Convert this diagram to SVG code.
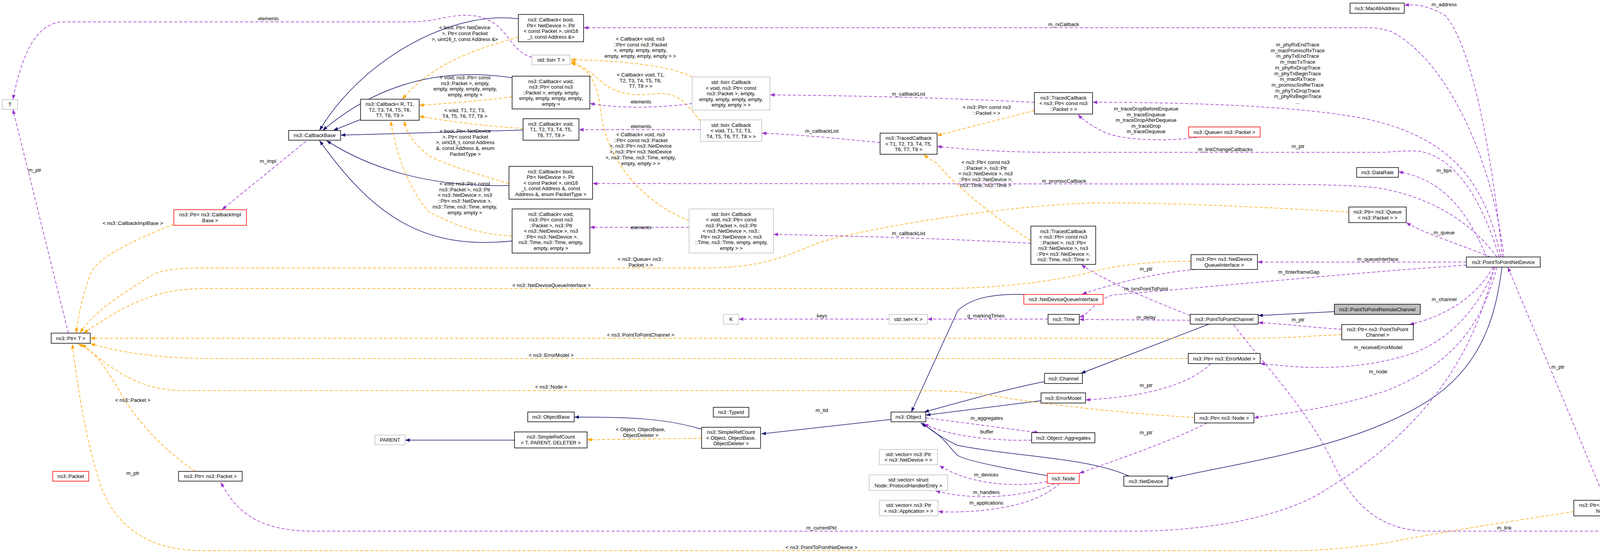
<svg xmlns="http://www.w3.org/2000/svg" width="4485" height="1416" viewBox="0 0 4485 1416">
<style>
text{font-family:"Liberation Sans",Arial,sans-serif;font-size:13px;fill:#000;text-anchor:middle}
.n{fill:#fff;stroke:#000;stroke-width:1.5}
.g{fill:#fff;stroke:#bfbfbf;stroke-width:1.5}
.r{fill:#fff;stroke:#ff0000;stroke-width:1.5}
.s{fill:#bfbfbf;stroke:#000;stroke-width:1.5}
.inh{fill:none;stroke:#191970;stroke-width:1.5;marker-end:url(#mb)}
.tpl{fill:none;stroke:#ffa500;stroke-width:1.5;stroke-dasharray:8,5;marker-end:url(#mo)}
.use{fill:none;stroke:#9a32cd;stroke-width:1.5;stroke-dasharray:8,5;marker-end:url(#mp)}
</style>
<defs>
<marker id="mb" markerUnits="userSpaceOnUse" markerWidth="13" markerHeight="10" refX="12" refY="4.5" orient="auto"><path d="M0,0 L12,4.5 L0,9 z" fill="#191970"/></marker>
<marker id="mo" markerUnits="userSpaceOnUse" markerWidth="13" markerHeight="10" refX="12" refY="4.5" orient="auto"><path d="M0,0 L12,4.5 L0,9 z" fill="#ffa500"/></marker>
<marker id="mp" markerUnits="userSpaceOnUse" markerWidth="13" markerHeight="10" refX="12" refY="4.5" orient="auto"><path d="M0,0 L12,4.5 L0,9 z" fill="#9a32cd"/></marker>
</defs>
<rect width="4485" height="1416" fill="#fff"/>
<g id="edges">
<path class="inh" d="M1327,48 C1150,25 920,160 818,334"/>
<path class="inh" d="M923,306 L853,334"/>
<path class="inh" d="M1311,199 C1120,170 960,220 826,334"/>
<path class="inh" d="M1339,333 L872,346"/>
<path class="inh" d="M1303,475 C1120,480 960,440 836,360"/>
<path class="inh" d="M1311,617 C1090,640 960,560 818,360"/>
<path class="inh" d="M2621,754 C2520,752 2480,770 2452,795 L2333,1055"/>
<path class="inh" d="M2674,977 C2560,1000 2440,1035 2366,1055"/>
<path class="inh" d="M2665,1026 L2370,1063"/>
<path class="inh" d="M2681,1218 C2580,1200 2470,1180 2450,1165 C2425,1140 2420,1120 2357,1083"/>
<path class="inh" d="M2890,1219 C2780,1170 2600,1170 2450,1140 C2410,1120 2380,1100 2362,1083"/>
<path class="inh" d="M2281,1074 L1949,1111"/>
<path class="inh" d="M1796,1099 C1700,1070 1600,1068 1470,1068"/>
<path class="inh" d="M1317,1127 L1037,1127"/>
<path class="inh" d="M3095,830 L2767,956"/>
<path class="inh" d="M3416,798 L3221,808"/>
<path class="inh" d="M3845,684 C3830,800 3800,920 3680,1010 C3500,1140 3200,1180 2990,1226"/>

<path class="tpl" d="M445,574 C330,620 250,660 232,700 C215,750 200,800 195,853"/>
<path class="tpl" d="M3453,543 C3200,528 2900,515 2761,521 C2500,535 2200,590 2100,620 C2000,660 1950,686 1800,686 L520,686 C440,686 400,695 380,710 C300,760 240,800 205,852"/>
<path class="tpl" d="M3049,669 C2950,668 2850,680 2780,700 C2650,730 2500,739 2400,739 L520,739 C400,739 320,780 214,853"/>
<path class="tpl" d="M3435,857 C3350,860 3300,866 3200,866 L231,866"/>
<path class="tpl" d="M3042,918 L540,918 C400,918 300,900 231,880"/>
<path class="tpl" d="M3058,1069 C2900,1060 2700,1040 2520,1010 C2450,1000 2400,1000 2300,1000 L470,1000 C350,1000 280,940 210,881"/>
<path class="tpl" d="M500,1207 C400,1140 330,1050 300,990 C260,930 245,900 200,881"/>
<path class="tpl" d="M4029,1310 C3900,1330 3700,1360 3550,1390 C3400,1410 3350,1410 3300,1410 L520,1410 C380,1410 300,1350 260,1250 C220,1130 200,1000 185,881"/>
<path class="tpl" d="M1327,95 C1200,130 1100,170 1030,254"/>
<path class="tpl" d="M1311,248 C1200,262 1120,266 1073,270"/>
<path class="tpl" d="M1339,329 C1200,320 1120,305 1073,298"/>
<path class="tpl" d="M1303,470 C1200,440 1140,420 1100,400 C1060,370 1040,340 1035,310"/>
<path class="tpl" d="M1311,604 C1200,600 1140,560 1100,545 C1050,490 1015,400 1000,310"/>
<path class="tpl" d="M1772,197 C1720,170 1600,155 1461,153"/>
<path class="tpl" d="M1793,310 C1760,270 1740,235 1680,240 C1600,250 1560,230 1530,200 C1500,175 1480,165 1461,157"/>
<path class="tpl" d="M1764,565 C1650,520 1560,420 1540,300 C1530,220 1520,180 1461,161"/>
<path class="tpl" d="M2648,283 L2399,347"/>
<path class="tpl" d="M2639,616 C2550,560 2450,480 2400,420 L2364,396"/>
<path class="tpl" d="M1796,1122 L1503,1126"/>

<path class="use" d="M1362,147 C1300,130 1300,50 1210,40 C1150,35 1120,56 1050,56 L165,56 C100,56 60,120 33,255"/>
<path class="use" d="M175,853 L33,280"/>
<path class="use" d="M783,362 L568,537"/>
<path class="use" d="M1772,265 C1700,275 1600,280 1510,265"/>
<path class="use" d="M1793,332 L1482,332"/>
<path class="use" d="M1764,582 L1510,582"/>
<path class="use" d="M2648,262 C2400,250 2200,245 1971,243"/>
<path class="use" d="M2253,365 C2150,355 2050,345 1950,341"/>
<path class="use" d="M2639,623 C2400,610 2200,605 1980,600"/>
<path class="use" d="M3850,658 C3820,400 3700,150 3560,80 C3530,72 3520,71 3500,71 L1494,71"/>
<path class="use" d="M3842,658 C3800,450 3700,350 3500,305 C3350,275 3100,262 2797,262"/>
<path class="use" d="M3063,352 C2990,362 2880,360 2830,340 C2790,320 2770,305 2760,293"/>
<path class="use" d="M3838,658 C3790,500 3720,400 3632,387 C3580,385 3560,390 3540,390 L2700,390 C2550,390 2450,380 2399,375"/>
<path class="use" d="M3832,658 C3760,560 3650,500 3520,480 C3400,470 3300,473 3000,471 L1517,470"/>
<path class="use" d="M3806,658 C3760,550 3700,460 3580,440"/>
<path class="use" d="M3846,658 C3820,400 3770,120 3700,40 C3650,10 3620,12 3595,13"/>
<path class="use" d="M3815,658 C3750,630 3650,600 3600,570"/>
<path class="use" d="M3754,671 L3219,671"/>
<path class="use" d="M3754,679 C3500,695 3100,735 2850,755 C2800,770 2790,805 2763,812"/>
<path class="use" d="M3060,690 C3000,695 2900,710 2770,753"/>
<path class="use" d="M3047,808 C2950,770 2830,720 2768,678"/>
<path class="use" d="M3047,820 L2763,818"/>
<path class="use" d="M2683,817 L2374,817"/>
<path class="use" d="M2276,817 L1891,817"/>
<path class="use" d="M3822,684 C3780,760 3700,810 3608,831"/>
<path class="use" d="M3435,843 C3350,838 3300,830 3221,826"/>
<path class="use" d="M3828,684 C3780,800 3700,880 3600,910 C3500,940 3400,945 3300,938 L3226,931"/>
<path class="use" d="M3100,931 C3050,980 2950,1015 2779,1024"/>
<path class="use" d="M3832,684 C3790,850 3700,940 3550,1000 C3400,1050 3300,1055 3210,1070"/>
<path class="use" d="M3090,1083 C3000,1130 2850,1180 2763,1212"/>
<path class="use" d="M2370,1070 C2450,1080 2560,1095 2660,1108"/>
<path class="use" d="M2641,1127 C2540,1130 2420,1115 2365,1085"/>
<path class="use" d="M2681,1233 C2600,1250 2480,1240 2405,1192"/>
<path class="use" d="M2700,1238 C2640,1270 2500,1285 2395,1257"/>
<path class="use" d="M2712,1238 C2650,1300 2500,1315 2401,1310"/>
<path class="use" d="M3824,684 C3780,900 3650,1100 3400,1250 C3300,1320 3100,1360 2900,1360 L800,1360 C650,1360 600,1300 565,1235"/>
<path class="use" d="M3158,832 C3250,950 3350,1050 3420,1200 C3480,1320 3560,1360 3660,1360 L4100,1360 C4200,1358 4250,1352 4304,1348"/>
<path class="use" d="M4304,1324 C4270,1318 4240,1314 4213,1311"/>
<path class="use" d="M4110,1281 L3860,684"/>
</g>
<g id="labels">
<text x="687" y="52">elements</text>
<text x="89" y="440">m_ptr</text>
<text x="686" y="417">m_impl</text>
<text x="340" y="576">&lt; ns3::CallbackImplBase &gt;</text>
<text x="1190" y="75"><tspan x="1190">&lt; bool, Ptr&lt; NetDevice</tspan><tspan x="1190" dy="15">&gt;, Ptr&lt; const Packet</tspan><tspan x="1190" dy="15">&gt;, uint16_t, const Address &amp;&gt;</tspan></text>
<text x="1639" y="104"><tspan x="1639">&lt; Callback&lt; void, ns3</tspan><tspan x="1639" dy="14.5">::Ptr&lt; const ns3::Packet</tspan><tspan x="1639" dy="14.5">&gt;, empty, empty, empty,</tspan><tspan x="1639" dy="14.5">empty, empty, empty, empty &gt; &gt;</tspan></text>
<text x="1191" y="203"><tspan x="1191">&lt; void, ns3::Ptr&lt; const</tspan><tspan x="1191" dy="14.5">ns3::Packet &gt;, empty,</tspan><tspan x="1191" dy="14.5">empty, empty, empty, empty,</tspan><tspan x="1191" dy="14.5">empty, empty &gt;</tspan></text>
<text x="1640" y="196"><tspan x="1640">&lt; Callback&lt; void, T1,</tspan><tspan x="1640" dy="14.5">T2, T3, T4, T5, T6,</tspan><tspan x="1640" dy="14.5">T7, T8 &gt; &gt;</tspan></text>
<text x="1641" y="265">elements</text>
<text x="1641" y="328">elements</text>
<text x="1641" y="587">elements</text>
<text x="1190" y="287"><tspan x="1190">&lt; void, T1, T2, T3,</tspan><tspan x="1190" dy="14.5">T4, T5, T6, T7, T8 &gt;</tspan></text>
<text x="2104" y="340">m_callbackList</text>
<text x="1191" y="340"><tspan x="1191">&lt; bool, Ptr&lt; NetDevice</tspan><tspan x="1191" dy="14.7">&gt;, Ptr&lt; const Packet</tspan><tspan x="1191" dy="14.7">&gt;, uint16_t, const Address</tspan><tspan x="1191" dy="14.7">&amp;, const Address &amp;, enum</tspan><tspan x="1191" dy="14.7">PacketType &gt;</tspan></text>
<text x="1640" y="349"><tspan x="1640">&lt; Callback&lt; void, ns3</tspan><tspan x="1640" dy="14.7">::Ptr&lt; const ns3::Packet</tspan><tspan x="1640" dy="14.7">&gt;, ns3::Ptr&lt; ns3::NetDevice</tspan><tspan x="1640" dy="14.7">&gt;, ns3::Ptr&lt; ns3::NetDevice</tspan><tspan x="1640" dy="14.7">&gt;, ns3::Time, ns3::Time, empty,</tspan><tspan x="1640" dy="14.7">empty, empty &gt; &gt;</tspan></text>
<text x="1190" y="475"><tspan x="1190">&lt; void, ns3::Ptr&lt; const</tspan><tspan x="1190" dy="14.7">ns3::Packet &gt;, ns3::Ptr</tspan><tspan x="1190" dy="14.7">&lt; ns3::NetDevice &gt;, ns3</tspan><tspan x="1190" dy="14.7">::Ptr&lt; ns3::NetDevice &gt;,</tspan><tspan x="1190" dy="14.7">ns3::Time, ns3::Time, empty,</tspan><tspan x="1190" dy="14.7">empty, empty &gt;</tspan></text>
<text x="1640" y="668"><tspan x="1640">&lt; ns3::Queue&lt; ns3::</tspan><tspan x="1640" dy="14.5">Packet &gt; &gt;</tspan></text>
<text x="2723" y="67">m_rxCallback</text>
<text x="2326" y="245">m_callbackList</text>
<text x="2326" y="602">m_callbackList</text>
<text x="2526" y="279"><tspan x="2526">&lt; ns3::Ptr&lt; const ns3</tspan><tspan x="2526" dy="14.5">::Packet &gt; &gt;</tspan></text>
<text x="2934" y="283"><tspan x="2934">m_traceDropBeforeEnqueue</tspan><tspan x="2934" dy="14.5">m_traceEnqueue</tspan><tspan x="2934" dy="14.5">m_traceDropAfterDequeue</tspan><tspan x="2934" dy="14.5">m_traceDrop</tspan><tspan x="2934" dy="14.5">m_traceDequeue</tspan></text>
<text x="3137" y="387">m_linkChangeCallbacks</text>
<text x="2523" y="420"><tspan x="2523">&lt; ns3::Ptr&lt; const ns3</tspan><tspan x="2523" dy="14.7">::Packet &gt;, ns3::Ptr</tspan><tspan x="2523" dy="14.7">&lt; ns3::NetDevice &gt;, ns3</tspan><tspan x="2523" dy="14.7">::Ptr&lt; ns3::NetDevice &gt;,</tspan><tspan x="2523" dy="14.7">ns3::Time, ns3::Time &gt;</tspan></text>
<text x="2724" y="468">m_promiscCallback</text>
<text x="2934" y="693">m_ptr</text>
<text x="3322" y="119"><tspan x="3322">m_phyRxEndTrace</tspan><tspan x="3322" dy="14.7">m_macPromiscRxTrace</tspan><tspan x="3322" dy="14.7">m_phyTxEndTrace</tspan><tspan x="3322" dy="14.7">m_macTxTrace</tspan><tspan x="3322" dy="14.7">m_phyRxDropTrace</tspan><tspan x="3322" dy="14.7">m_phyTxBeginTrace</tspan><tspan x="3322" dy="14.7">m_macRxTrace</tspan><tspan x="3322" dy="14.7">m_promiscSnifferTrace</tspan><tspan x="3322" dy="14.7">m_phyTxDropTrace</tspan><tspan x="3322" dy="14.7">m_phyRxBeginTrace</tspan><tspan x="3322" dy="14.7">...</tspan></text>
<text x="3697" y="16">m_address</text>
<text x="3697" y="441">m_bps</text>
<text x="3697" y="600">m_queue</text>
<text x="3527" y="668">m_queueInterface</text>
<text x="3323" y="379">m_ptr</text>
<text x="3325" y="701">m_tInterframeGap</text>
<text x="340" y="1029">&lt; ns3::Packet &gt;</text>
<text x="340" y="1216">m_ptr</text>
<text x="1412" y="735">&lt; ns3::NetDeviceQueueInterface &gt;</text>
<text x="2104" y="813">keys</text>
<text x="1640" y="862">&lt; ns3::PointToPointChannel &gt;</text>
<text x="1411" y="914">&lt; ns3::ErrorModel &gt;</text>
<text x="1411" y="995">&lt; ns3::Node &gt;</text>
<text x="2104" y="1055">m_tid</text>
<text x="1640" y="1104"><tspan x="1640">&lt; Object, ObjectBase,</tspan><tspan x="1640" dy="14.5">ObjectDeleter &gt;</tspan></text>
<text x="2103" y="1356">m_currentPkt</text>
<text x="2103" y="1406">&lt; ns3::PointToPointNetDevice &gt;</text>
<text x="2934" y="744">m_txrxPointToPoint</text>
<text x="2524" y="813">g_markingTimes</text>
<text x="2934" y="817">m_delay</text>
<text x="2934" y="991">m_ptr</text>
<text x="2526" y="1075">m_aggregates</text>
<text x="2526" y="1110">buffer</text>
<text x="2934" y="1112">m_ptr</text>
<text x="2525" y="1220">m_devices</text>
<text x="2525" y="1265">m_handlers</text>
<text x="2525" y="1292">m_applications</text>
<text x="3697" y="771">m_channel</text>
<text x="3323" y="823">m_ptr</text>
<text x="3528" y="894">m_receiveErrorModel</text>
<text x="3528" y="956">m_node</text>
<text x="3988" y="944">m_ptr</text>
<text x="4258" y="1297"><tspan x="4258">m_src</tspan><tspan x="4258" dy="14.5">m_dst</tspan></text>
<text x="3851" y="1356">m_link</text>
</g>
<g id="n_T"><rect class="g" x="6" y="255" width="39" height="25"/><text x="25.5" y="272">T</text></g>
<g id="n_CallbackBase"><rect class="n" x="739" y="334" width="133" height="25"/><text x="805.5" y="351">ns3::CallbackBase</text></g>
<g id="n_CallbackR"><rect class="n" x="923" y="254" width="150" height="54"/><text x="998" y="271"><tspan x="998">ns3::Callback&lt; R, T1,</tspan><tspan x="998" dy="14.5">T2, T3, T4, T5, T6,</tspan><tspan x="998" dy="14.5">T7, T8, T9 &gt;</tspan></text></g>
<g id="n_PtrCallbackImplBase"><rect class="r" x="445" y="537" width="186" height="40"/><text x="538" y="554"><tspan x="538">ns3::Ptr&lt; ns3::CallbackImpl</tspan><tspan x="538" dy="14.5">Base &gt;</tspan></text></g>
<g id="n_CbBoolAddr"><rect class="n" x="1327" y="37" width="167" height="70"/><text x="1410.5" y="55"><tspan x="1410.5">ns3::Callback&lt; bool,</tspan><tspan x="1410.5" dy="14.5">Ptr&lt; NetDevice &gt;, Ptr</tspan><tspan x="1410.5" dy="14.5">&lt; const Packet &gt;, uint16</tspan><tspan x="1410.5" dy="14.5">_t, const Address &amp;&gt;</tspan></text></g>
<g id="n_stdlistT"><rect class="g" x="1362" y="141" width="97" height="25"/><text x="1410.5" y="158">std::list&lt; T &gt;</text></g>
<g id="n_CbVoidEmpty"><rect class="n" x="1311" y="195" width="199" height="84"/><text x="1410.5" y="212.5"><tspan x="1410.5">ns3::Callback&lt; void,</tspan><tspan x="1410.5" dy="14.5">ns3::Ptr&lt; const ns3</tspan><tspan x="1410.5" dy="14.5">::Packet &gt;, empty, empty,</tspan><tspan x="1410.5" dy="14.5">empty, empty, empty, empty,</tspan><tspan x="1410.5" dy="14.5">empty &gt;</tspan></text></g>
<g id="n_CbVoidT"><rect class="n" x="1339" y="304" width="143" height="55"/><text x="1410.5" y="321.5"><tspan x="1410.5">ns3::Callback&lt; void,</tspan><tspan x="1410.5" dy="14.5">T1, T2, T3, T4, T5,</tspan><tspan x="1410.5" dy="14.5">T6, T7, T8 &gt;</tspan></text></g>
<g id="n_CbBoolPT"><rect class="n" x="1303" y="426" width="214" height="84"/><text x="1410" y="443.5"><tspan x="1410">ns3::Callback&lt; bool,</tspan><tspan x="1410" dy="14.5">Ptr&lt; NetDevice &gt;, Ptr</tspan><tspan x="1410" dy="14.5">&lt; const Packet &gt;, uint16</tspan><tspan x="1410" dy="14.5">_t, const Address &amp;, const</tspan><tspan x="1410" dy="14.5">Address &amp;, enum PacketType &gt;</tspan></text></g>
<g id="n_CbVoidTime"><rect class="n" x="1311" y="535" width="199" height="113"/><text x="1410.5" y="552.5"><tspan x="1410.5">ns3::Callback&lt; void,</tspan><tspan x="1410.5" dy="14.5">ns3::Ptr&lt; const ns3</tspan><tspan x="1410.5" dy="14.5">::Packet &gt;, ns3::Ptr</tspan><tspan x="1410.5" dy="14.5">&lt; ns3::NetDevice &gt;, ns3</tspan><tspan x="1410.5" dy="14.5">::Ptr&lt; ns3::NetDevice &gt;,</tspan><tspan x="1410.5" dy="14.5">ns3::Time, ns3::Time, empty,</tspan><tspan x="1410.5" dy="14.5">empty, empty &gt;</tspan></text></g>
<g id="n_ListEmpty"><rect class="g" x="1772" y="197" width="199" height="85"/><text x="1871.5" y="215"><tspan x="1871.5">std::list&lt; Callback</tspan><tspan x="1871.5" dy="14.5">&lt; void, ns3::Ptr&lt; const</tspan><tspan x="1871.5" dy="14.5">ns3::Packet &gt;, empty,</tspan><tspan x="1871.5" dy="14.5">empty, empty, empty, empty,</tspan><tspan x="1871.5" dy="14.5">empty, empty &gt; &gt;</tspan></text></g>
<g id="n_ListT"><rect class="g" x="1793" y="307" width="157" height="55"/><text x="1871.5" y="324.5"><tspan x="1871.5">std::list&lt; Callback</tspan><tspan x="1871.5" dy="14.5">&lt; void, T1, T2, T3,</tspan><tspan x="1871.5" dy="14.5">T4, T5, T6, T7, T8 &gt; &gt;</tspan></text></g>
<g id="n_ListTime"><rect class="g" x="1764" y="535" width="216" height="113"/><text x="1872" y="552.5"><tspan x="1872">std::list&lt; Callback</tspan><tspan x="1872" dy="14.5">&lt; void, ns3::Ptr&lt; const</tspan><tspan x="1872" dy="14.5">ns3::Packet &gt;, ns3::Ptr</tspan><tspan x="1872" dy="14.5">&lt; ns3::NetDevice &gt;, ns3::</tspan><tspan x="1872" dy="14.5">Ptr&lt; ns3::NetDevice &gt;, ns3</tspan><tspan x="1872" dy="14.5">::Time, ns3::Time, empty, empty,</tspan><tspan x="1872" dy="14.5">empty &gt; &gt;</tspan></text></g>
<g id="n_TCPacket"><rect class="n" x="2648" y="237" width="149" height="55"/><text x="2722.5" y="254.5"><tspan x="2722.5">ns3::TracedCallback</tspan><tspan x="2722.5" dy="14.5">&lt; ns3::Ptr&lt; const ns3</tspan><tspan x="2722.5" dy="14.5">::Packet &gt; &gt;</tspan></text></g>
<g id="n_TCT"><rect class="n" x="2253" y="341" width="146" height="54"/><text x="2326" y="358"><tspan x="2326">ns3::TracedCallback</tspan><tspan x="2326" dy="14.5">&lt; T1, T2, T3, T4, T5,</tspan><tspan x="2326" dy="14.5">T6, T7, T8 &gt;</tspan></text></g>
<g id="n_Queue"><rect class="r" x="3043" y="325" width="183" height="26"/><text x="3134.5" y="342.5">ns3::Queue&lt; ns3::Packet &gt;</text></g>
<g id="n_TCTime"><rect class="n" x="2639" y="579" width="166" height="98"/><text x="2722" y="596.5"><tspan x="2722">ns3::TracedCallback</tspan><tspan x="2722" dy="14.5">&lt; ns3::Ptr&lt; const ns3</tspan><tspan x="2722" dy="14.5">::Packet &gt;, ns3::Ptr&lt;</tspan><tspan x="2722" dy="14.5">ns3::NetDevice &gt;, ns3</tspan><tspan x="2722" dy="14.5">::Ptr&lt; ns3::NetDevice &gt;,</tspan><tspan x="2722" dy="14.5">ns3::Time, ns3::Time &gt;</tspan></text></g>
<g id="n_PtrNDQI"><rect class="n" x="3049" y="652" width="170" height="38"/><text x="3134" y="668"><tspan x="3134">ns3::Ptr&lt; ns3::NetDevice</tspan><tspan x="3134" dy="14.5">QueueInterface &gt;</tspan></text></g>
<g id="n_Mac48"><rect class="n" x="3456" y="8" width="139" height="26"/><text x="3525.5" y="25.5">ns3::Mac48Address</text></g>
<g id="n_DataRate"><rect class="n" x="3473" y="429" width="107" height="25"/><text x="3526.5" y="446">ns3::DataRate</text></g>
<g id="n_PtrQueue"><rect class="n" x="3453" y="530" width="147" height="40"/><text x="3526.5" y="547"><tspan x="3526.5">ns3::Ptr&lt; ns3::Queue</tspan><tspan x="3526.5" dy="14.5">&lt; ns3::Packet &gt; &gt;</tspan></text></g>
<g id="n_P2PND"><rect class="n" x="3754" y="658" width="189" height="26"/><text x="3848.5" y="675.5">ns3::PointToPointNetDevice</text></g>
<g id="n_PtrT"><rect class="n" x="131" y="853" width="100" height="26"/><text x="181" y="870.5">ns3::Ptr&lt; T &gt;</text></g>
<g id="n_Packet"><rect class="r" x="135" y="1207" width="92" height="25"/><text x="181" y="1224">ns3::Packet</text></g>
<g id="n_PtrPacket"><rect class="n" x="457" y="1207" width="163" height="25"/><text x="538.5" y="1224">ns3::Ptr&lt; ns3::Packet &gt;</text></g>
<g id="n_PARENT"><rect class="g" x="960" y="1114" width="77" height="25"/><text x="998.5" y="1131">PARENT</text></g>
<g id="n_K"><rect class="g" x="1852" y="805" width="39" height="25"/><text x="1871.5" y="822">K</text></g>
<g id="n_ObjectBase"><rect class="n" x="1351" y="1055" width="119" height="25"/><text x="1410.5" y="1072">ns3::ObjectBase</text></g>
<g id="n_TypeId"><rect class="n" x="1826" y="1043" width="91" height="25"/><text x="1871.5" y="1060">ns3::TypeId</text></g>
<g id="n_SRCT"><rect class="n" x="1317" y="1106" width="186" height="41"/><text x="1410" y="1123"><tspan x="1410">ns3::SimpleRefCount</tspan><tspan x="1410" dy="14.5">&lt; T, PARENT, DELETER &gt;</tspan></text></g>
<g id="n_SRCO"><rect class="n" x="1796" y="1094" width="151" height="54"/><text x="1871.5" y="1111"><tspan x="1871.5">ns3::SimpleRefCount</tspan><tspan x="1871.5" dy="14.5">&lt; Object, ObjectBase,</tspan><tspan x="1871.5" dy="14.5">ObjectDeleter &gt;</tspan></text></g>
<g id="n_NDQI"><rect class="r" x="2621" y="754" width="203" height="25"/><text x="2722.5" y="771">ns3::NetDeviceQueueInterface</text></g>
<g id="n_setK"><rect class="g" x="2276" y="805" width="98" height="25"/><text x="2325" y="822">std::set&lt; K &gt;</text></g>
<g id="n_Time"><rect class="n" x="2683" y="805" width="80" height="25"/><text x="2723" y="822">ns3::Time</text></g>
<g id="n_P2PChannel"><rect class="n" x="3047" y="805" width="174" height="25"/><text x="3134" y="822">ns3::PointToPointChannel</text></g>
<g id="n_PtrErrorModel"><rect class="n" x="3042" y="905" width="184" height="26"/><text x="3134" y="922.5">ns3::Ptr&lt; ns3::ErrorModel &gt;</text></g>
<g id="n_Channel"><rect class="n" x="2674" y="956" width="97" height="26"/><text x="2722.5" y="973.5">ns3::Channel</text></g>
<g id="n_ErrorModel"><rect class="n" x="2665" y="1006" width="114" height="26"/><text x="2722" y="1023.5">ns3::ErrorModel</text></g>
<g id="n_Object"><rect class="n" x="2281" y="1055" width="89" height="25"/><text x="2325.5" y="1072">ns3::Object</text></g>
<g id="n_PtrNode"><rect class="n" x="3058" y="1058" width="152" height="25"/><text x="3134" y="1075">ns3::Ptr&lt; ns3::Node &gt;</text></g>
<g id="n_Aggregates"><rect class="n" x="2641" y="1108" width="162" height="26"/><text x="2722" y="1125.5">ns3::Object::Aggregates</text></g>
<g id="n_VecND"><rect class="g" x="2251" y="1151" width="149" height="39"/><text x="2325.5" y="1167.5"><tspan x="2325.5">std::vector&lt; ns3::Ptr</tspan><tspan x="2325.5" dy="14.5">&lt; ns3::NetDevice &gt; &gt;</tspan></text></g>
<g id="n_VecPHE"><rect class="g" x="2225" y="1216" width="201" height="40"/><text x="2325.5" y="1233"><tspan x="2325.5">std::vector&lt; struct</tspan><tspan x="2325.5" dy="14.5">Node::ProtocolHandlerEntry &gt;</tspan></text></g>
<g id="n_VecApp"><rect class="g" x="2251" y="1281" width="150" height="40"/><text x="2326" y="1298"><tspan x="2326">std::vector&lt; ns3::Ptr</tspan><tspan x="2326" dy="14.5">&lt; ns3::Application &gt; &gt;</tspan></text></g>
<g id="n_Node"><rect class="r" x="2681" y="1212" width="82" height="26"/><text x="2722" y="1229.5">ns3::Node</text></g>
<g id="n_NetDevice"><rect class="n" x="2877" y="1219" width="113" height="26"/><text x="2933.5" y="1236.5">ns3::NetDevice</text></g>
<g id="n_RemoteChannel"><rect class="s" x="3416" y="779" width="220" height="26"/><text x="3526" y="796.5">ns3::PointToPointRemoteChannel</text></g>
<g id="n_PtrP2PChannel"><rect class="n" x="3435" y="831" width="183" height="39"/><text x="3526.5" y="847.5"><tspan x="3526.5">ns3::Ptr&lt; ns3::PointToPoint</tspan><tspan x="3526.5" dy="14.5">Channel &gt;</tspan></text></g>
<g id="n_PtrP2PND"><rect class="n" x="4029" y="1281" width="184" height="40"/><text x="4121" y="1298"><tspan x="4121">ns3::Ptr&lt; ns3::PointToPoint</tspan><tspan x="4121" dy="14.5">NetDevice &gt;</tspan></text></g>
<g id="n_Link"><rect class="n" x="4304" y="1315" width="175" height="39"/><text x="4391.5" y="1331.5"><tspan x="4391.5">ns3::PointToPointChannel</tspan><tspan x="4391.5" dy="14.5">::Link</tspan></text></g>
</svg>
